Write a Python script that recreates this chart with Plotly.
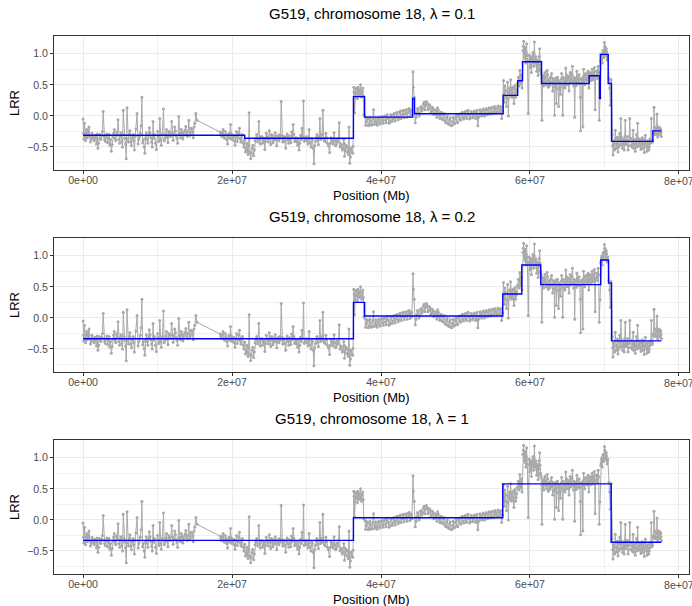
import plotly.graph_objects as go

# ---------------- data (positions in Mb, LRR values) ----------------
posA = [0.0, 0.1, 0.2, 0.35, 0.5, 0.65, 0.8, 1.0, 1.2, 1.4,
        1.6, 1.8, 2.0, 2.2, 2.4, 2.6, 2.7, 2.8, 3.0, 3.2,
        3.4, 3.6, 3.8, 4.0, 4.2, 4.4, 4.6, 4.7, 4.9, 5.1,
        5.3, 5.4, 5.6, 5.8, 5.9, 6.1, 6.3, 6.5, 6.7, 6.9,
        7.1, 7.25, 7.4, 7.6, 7.8, 7.9, 8.1, 8.3, 8.5, 8.7,
        8.9, 9.1, 9.3, 9.4, 9.6, 9.85, 10.0, 10.2, 10.3, 10.5,
        10.8, 11.0, 11.2, 11.4, 11.6, 11.9, 12.1, 12.3, 12.5, 12.7,
        12.85, 13.0, 13.2, 13.4, 13.6, 13.8, 14.0, 14.2, 14.4, 14.6,
        14.8, 15.0, 15.15, 15.3]
lrrA = [-0.05, -0.37, -0.12, -0.40, -0.22, -0.30, -0.18, -0.42, -0.28, -0.36,
        -0.31, -0.45, -0.52, -0.30, -0.38, -0.25, 0.07, -0.33, -0.41, -0.29,
        -0.35, -0.47, -0.57, -0.34, -0.22, -0.40, -0.31, -0.06, -0.44, -0.27,
        -0.50, 0.09, -0.36, -0.69, 0.13, -0.42, -0.24, -0.48, -0.30, -0.55,
        -0.21, 0.04, -0.45, -0.33, -0.16, 0.30, -0.38, -0.60, -0.27, -0.44,
        -0.19, -0.35, -0.50, -0.09, -0.30, -0.54, -0.25, -0.41, -0.04, -0.47,
        0.11, -0.36, -0.22, -0.43, -0.28, -0.09, -0.39, -0.18, -0.32, -0.44,
        -0.01, -0.30, -0.22, -0.37, -0.26, -0.17, -0.33, -0.07, -0.29, -0.21,
        -0.35, -0.12, 0.04, -0.07]
posA2 = [0.05, 0.28, 0.43, 0.58, 0.72, 0.9, 1.1, 1.3, 1.5, 1.7,
         1.9, 2.1, 2.3, 2.5, 2.9, 3.1, 3.3, 3.5, 3.7, 3.9,
         4.1, 4.3, 4.5, 4.8, 5.0, 5.2, 5.5, 5.7, 6.0, 6.2,
         6.4, 6.6, 6.8, 7.0, 7.5, 7.7, 8.0, 8.2, 8.4, 8.6,
         8.8, 9.0, 9.2, 9.5, 9.7, 10.1, 10.4, 10.65, 10.9, 11.1,
         11.3, 11.5, 11.75, 12.0, 12.2, 12.4, 12.6, 12.95, 13.1, 13.3,
         13.5, 13.7, 13.9, 14.1, 14.3, 14.5, 14.7, 14.9]
lrrA2 = [-0.28, -0.33, -0.27, -0.35, -0.25, -0.33, -0.38, -0.32, -0.40, -0.35,
         -0.29, -0.44, -0.36, -0.31, -0.38, -0.33, -0.43, -0.30, -0.38, -0.46,
         -0.28, -0.36, -0.26, -0.38, -0.32, -0.41, -0.30, -0.45, -0.37, -0.30,
         -0.42, -0.35, -0.40, -0.33, -0.38, -0.28, -0.43, -0.50, -0.35, -0.38,
         -0.31, -0.27, -0.42, -0.36, -0.44, -0.32, -0.38, -0.30, -0.40, -0.29,
         -0.34, -0.25, -0.33, -0.27, -0.30, -0.24, -0.36, -0.28, -0.35, -0.27,
         -0.31, -0.23, -0.29, -0.25, -0.32, -0.20, -0.26, -0.18]

posB = [18.4, 18.6, 18.8, 19.0, 19.2, 19.4, 19.6, 19.8, 20.0, 20.2,
        20.4, 20.6, 20.8, 21.0, 21.2, 21.4, 21.6, 21.8, 22.0, 22.15,
        22.3, 22.5, 22.7, 22.9, 23.1, 23.3, 23.6, 23.8, 24.0, 24.2,
        24.4, 24.6, 24.8, 25.0, 25.2, 25.4, 25.6, 25.8, 26.0, 26.2,
        26.4, 26.6, 26.8, 27.0, 27.2, 27.4, 27.6, 27.8, 28.0, 28.2,
        28.4, 28.6, 28.8, 29.0, 29.2, 29.4, 29.6, 29.8, 30.0, 30.2,
        30.35, 30.6, 30.8, 31.0, 31.2, 31.4, 31.6, 31.8, 32.0, 32.2,
        32.4, 32.6, 32.8, 33.1, 33.3, 33.5, 33.7, 33.9, 34.1, 34.4,
        34.6, 34.8, 35.0, 35.1, 35.3, 35.5, 35.7, 35.8, 36.0, 36.2]
lrrB = [-0.26, -0.33, -0.22, -0.36, -0.30, -0.45, -0.28, -0.14, -0.38, -0.31,
        -0.47, -0.25, -0.35, -0.20, -0.42, -0.30, -0.50, -0.58, -0.44, -0.62,
        0.05, -0.69, -0.52, -0.64, -0.40, -0.30, -0.09, -0.45, -0.33, -0.40,
        -0.54, -0.28, -0.37, -0.24, -0.46, -0.31, -0.39, -0.27, -0.48, -0.35,
        -0.30, 0.23, -0.42, -0.33, -0.52, -0.29, -0.44, -0.38, -0.26, -0.14,
        -0.41, -0.35, -0.47, -0.55, -0.31, -0.20, 0.24, -0.39, -0.33, -0.45,
        -0.22, -0.50, -0.38, -0.77, -0.41, -0.30, -0.46, -0.04, -0.36, 0.09,
        -0.40, -0.28, -0.44, -0.59, -0.35, -0.42, -0.27, -0.48, -0.37, -0.11,
        -0.45, -0.55, -0.38, -0.65, -0.47, -0.58, -0.18, -0.76, -0.52, -0.60]
posB2 = [18.5, 18.7, 18.9, 19.1, 19.3, 19.5, 19.7, 19.9, 20.1, 20.3,
         20.5, 20.7, 20.9, 21.1, 21.3, 21.5, 21.7, 21.9, 22.07, 22.22,
         22.4, 22.6, 22.8, 23.0, 23.2, 23.45, 23.7, 23.9, 24.1, 24.3,
         24.5, 24.7, 24.9, 25.1, 25.3, 25.5, 25.7, 25.9, 26.1, 26.3,
         26.5, 26.7, 26.9, 27.1, 27.3, 27.5, 27.7, 27.9, 28.1, 28.3,
         28.5, 28.7, 28.9, 29.1, 29.3, 29.5, 29.7, 29.9, 30.1, 30.28,
         30.45, 30.7, 30.9, 31.1, 31.3, 31.5, 31.7, 31.9, 32.1, 32.3,
         32.5, 32.7, 32.95, 33.2, 33.4, 33.6, 33.8, 34.0, 34.25, 34.5,
         34.7, 34.9, 35.05, 35.2, 35.4, 35.6, 35.75, 35.9, 36.1, 36.25]
lrrB2 = [-0.30, -0.27, -0.34, -0.25, -0.38, -0.33, -0.36, -0.29, -0.35, -0.40,
         -0.33, -0.41, -0.28, -0.37, -0.32, -0.44, -0.39, -0.53, -0.56, -0.48,
         -0.58, -0.60, -0.47, -0.55, -0.36, -0.42, -0.38, -0.34, -0.44, -0.36,
         -0.41, -0.33, -0.42, -0.36, -0.30, -0.43, -0.35, -0.38, -0.32, -0.40,
         -0.36, -0.31, -0.37, -0.41, -0.34, -0.38, -0.32, -0.43, -0.35, -0.30,
         -0.39, -0.42, -0.36, -0.44, -0.38, -0.33, -0.41, -0.35, -0.40, -0.37,
         -0.43, -0.36, -0.52, -0.48, -0.35, -0.39, -0.33, -0.38, -0.30, -0.36,
         -0.41, -0.35, -0.48, -0.44, -0.38, -0.45, -0.40, -0.46, -0.42, -0.50,
         -0.47, -0.52, -0.44, -0.56, -0.50, -0.62, -0.54, -0.66, -0.58, -0.49]

posC = [36.35, 36.45, 36.55, 36.7, 36.85, 36.95, 37.1, 37.25, 37.4, 37.55, 37.7,
        36.4, 36.5, 36.62, 36.78, 36.9, 37.02, 37.18, 37.32, 37.48, 37.62]
lrrC = [0.46, 0.05, 0.37, 0.44, 0.28, 0.42, 0.33, 0.50, 0.30, 0.45, 0.02,
        0.38, 0.30, 0.44, 0.35, 0.46, 0.38, 0.42, 0.36, 0.40, 0.33]

posD = [37.85, 38.0, 38.2, 38.4, 38.6, 38.8, 39.0, 39.2, 39.4, 39.6,
        39.8, 40.0, 40.2, 40.4, 40.6, 40.8, 41.0, 41.2, 41.4, 41.6,
        41.8, 42.0, 42.2, 42.4, 42.6, 42.8, 43.0, 43.2, 43.4, 43.6,
        43.8, 44.0, 44.15]
lrrD = [-0.01, -0.10, -0.05, -0.13, -0.08, -0.14, 0.10, -0.09, -0.12, -0.06,
        -0.11, -0.03, -0.08, -0.01, -0.07, 0.02, -0.04, -0.09, 0.01, -0.05,
        0.04, -0.02, 0.06, -0.03, 0.08, 0.02, 0.09, 0.03, 0.10, 0.05,
        0.12, 0.07, 0.02]
posD2 = [37.93, 38.1, 38.3, 38.5, 38.7, 38.9, 39.1, 39.3, 39.5, 39.7,
         39.9, 40.1, 40.3, 40.5, 40.7, 40.9, 41.1, 41.3, 41.5, 41.7,
         41.9, 42.1, 42.3, 42.5, 42.7, 42.9, 43.1, 43.3, 43.5, 43.7,
         43.9, 44.08]
lrrD2 = [-0.15, -0.03, -0.16, -0.02, -0.15, -0.04, -0.14, -0.03, -0.15, -0.02,
         -0.13, -0.01, -0.12, 0.00, -0.11, -0.02, -0.12, 0.02, -0.09, 0.03,
         -0.08, 0.05, -0.06, 0.06, -0.04, 0.08, -0.03, 0.09, -0.02, 0.11,
         -0.01, 0.09]

posE = [44.3, 44.35, 44.45]
lrrE = [0.71, 0.46, 0.30]

posF = [44.6, 44.8, 45.0, 45.2, 45.4, 45.6, 45.8, 46.0, 46.2, 46.4,
        46.6, 46.8, 47.0, 47.2, 47.4, 47.6, 47.8, 48.0, 48.2, 48.4,
        48.6, 48.8, 49.0, 49.2, 49.4, 49.6, 49.8, 50.0, 50.2, 50.4,
        50.6, 50.8, 51.0, 51.2, 51.4, 51.6, 51.8, 52.0, 52.2, 52.4,
        52.6, 52.8, 53.0, 53.2, 53.4, 53.6, 53.8, 54.0, 54.2, 54.4,
        54.6, 54.8, 55.0, 55.2, 55.4, 55.6, 55.8, 56.0, 56.2]
lrrF = [-0.11, 0.05, 0.10, 0.04, 0.15, 0.12, 0.22, 0.17, 0.20, 0.12,
        0.16, 0.08, 0.11, 0.03, 0.07, 0.13, 0.01, 0.05, -0.04, 0.02,
        -0.08, -0.03, -0.12, -0.06, -0.15, -0.09, -0.13, -0.04, -0.10, 0.00,
        -0.05, 0.03, -0.02, 0.05, -0.01, 0.08, 0.02, -0.03, 0.04, 0.00,
        0.06, -0.02, -0.16, 0.03, 0.07, 0.01, 0.09, 0.04, 0.10, 0.05,
        0.11, 0.06, 0.13, 0.08, 0.12, 0.07, 0.14, 0.10, -0.04]
posF2 = [44.7, 44.9, 45.1, 45.3, 45.5, 45.7, 45.9, 46.1, 46.3, 46.5,
         46.7, 46.9, 47.1, 47.3, 47.5, 47.7, 47.9, 48.1, 48.3, 48.5,
         48.7, 48.9, 49.1, 49.3, 49.5, 49.7, 49.9, 50.1, 50.3, 50.5,
         50.7, 50.9, 51.1, 51.3, 51.5, 51.7, 51.9, 52.1, 52.3, 52.5,
         52.7, 52.9, 53.1, 53.3, 53.5, 53.7, 53.9, 54.1, 54.3, 54.5,
         54.7, 54.9, 55.1, 55.3, 55.5, 55.7, 55.9, 56.1, 56.3]
lrrF2 = [-0.02, 0.12, 0.00, 0.14, 0.08, 0.19, 0.10, 0.23, 0.10, 0.18,
         0.06, 0.14, 0.02, 0.10, -0.02, 0.09, -0.04, 0.06, -0.06, 0.04,
         -0.11, 0.00, -0.14, -0.03, -0.16, -0.02, -0.12, 0.01, -0.11, 0.03,
         -0.07, 0.06, -0.05, 0.07, -0.04, 0.09, -0.05, 0.07, -0.03, 0.08,
         -0.04, 0.09, -0.02, 0.10, 0.00, 0.11, 0.00, 0.12, 0.02, 0.13,
         0.03, 0.14, 0.04, 0.15, 0.05, 0.16, 0.06, 0.15, 0.08]

posG = [56.45, 56.55, 56.7, 56.85, 57.0, 57.1, 57.25, 57.4, 57.55, 57.7, 57.85, 58.0, 58.15, 58.3,
        56.5, 56.62, 56.78, 56.92, 57.05, 57.18, 57.32, 57.48, 57.62, 57.78, 57.92, 58.08, 58.22]
lrrG = [0.57, 0.22, 0.41, 0.15, 0.54, 0.00, 0.45, 0.58, 0.30, 0.46, 0.20, 0.49, 0.36, 0.52,
        0.35, 0.48, 0.30, 0.40, 0.28, 0.38, 0.33, 0.42, 0.36, 0.31, 0.44, 0.30, 0.42]

posH = [58.45, 58.55, 58.65, 58.75, 58.85, 58.95]
lrrH = [0.62, 0.48, 0.73, 0.52, 0.66, 0.45]

posI = [59.05, 59.15, 59.25, 59.35, 59.45, 59.55, 59.65, 59.77, 59.9, 60.0,
        60.1, 60.2, 60.3, 60.4, 60.5, 60.6, 60.7, 60.8, 60.9, 61.0,
        61.1, 61.2, 61.3, 61.4, 61.5,
        59.1, 59.2, 59.3, 59.4, 59.5, 59.6, 59.95, 60.05, 60.15, 60.25,
        60.35, 60.45, 60.55, 60.65, 60.75, 60.85, 60.95, 61.05, 61.15, 61.25,
        61.35, 61.45]
lrrI = [1.05, 1.20, 0.95, 1.10, 0.85, 1.16, 0.90, 0.04, 0.98, 0.78,
        0.92, 0.70, 0.88, 1.02, 0.80, 1.19, 0.85, 0.95, 0.72, 0.90,
        0.65, 0.82, 1.08, 0.76, 0.68,
        1.12, 1.00, 1.06, 0.92, 1.02, 0.97, 0.88, 0.95, 0.82, 0.90,
        0.96, 0.86, 1.00, 0.92, 0.89, 0.84, 0.80, 0.86, 0.74, 0.95,
        0.88, 0.72]

posJ = [61.6, 61.7, 61.85, 62.0, 62.15, 62.3, 62.45, 62.6, 62.75, 62.9,
        63.05, 63.2, 63.3, 63.45, 63.55, 63.7, 63.85, 64.0, 64.1, 64.25,
        64.4, 64.55, 64.7, 64.8, 64.95, 65.1, 65.25, 65.4, 65.55, 65.7,
        65.85, 66.0, 66.15, 66.3, 66.45, 66.6, 66.75, 66.8, 66.95, 67.1,
        67.2, 67.35, 67.5, 67.65, 67.8, 67.9]
lrrJ = [-0.07, 0.62, 0.48, 0.70, 0.55, 0.73, 0.46, 0.60, 0.52, 0.68,
        0.40, 0.58, 0.01, 0.50, 0.20, 0.62, 0.15, 0.55, 0.35, 0.68,
        0.01, 0.58, 0.45, 0.77, 0.50, 0.64, 0.40, 0.70, 0.55, 0.80,
        0.48, -0.02, 0.60, 0.72, 0.52, 0.66, 0.30, -0.24, 0.58, -0.18,
        0.75, 0.50, 0.68, 0.56, 0.72, 0.45]
posJ2 = [61.65, 61.78, 61.92, 62.08, 62.22, 62.38, 62.52, 62.68, 62.82, 62.97,
         63.12, 63.25, 63.38, 63.5, 63.62, 63.78, 63.92, 64.05, 64.18, 64.32,
         64.48, 64.62, 64.75, 64.88, 65.02, 65.18, 65.32, 65.48, 65.62, 65.78,
         65.92, 66.08, 66.22, 66.38, 66.52, 66.68, 66.88, 67.02, 67.15, 67.28,
         67.42, 67.58, 67.72, 67.85]
lrrJ2 = [0.55, 0.65, 0.58, 0.62, 0.50, 0.66, 0.57, 0.49, 0.63, 0.54,
         0.60, 0.47, 0.56, 0.61, 0.44, 0.57, 0.52, 0.46, 0.59, 0.51,
         0.62, 0.48, 0.55, 0.66, 0.58, 0.50, 0.61, 0.53, 0.67, 0.57,
         0.62, 0.54, 0.49, 0.64, 0.58, 0.52, 0.60, 0.55, 0.63, 0.59,
         0.66, 0.58, 0.62, 0.68]

posK = [68.05, 68.2, 68.35, 68.5, 68.65, 68.75, 68.9, 69.05, 69.15, 69.3, 69.4,
        68.12, 68.28, 68.42, 68.58, 68.82, 68.98, 69.1, 69.22]
lrrK = [0.70, 0.57, 0.75, 0.62, 0.78, 0.10, 0.72, 0.60, 0.80, -0.07, 0.29,
        0.62, 0.68, 0.58, 0.70, 0.64, 0.72, 0.66, 0.70]

posL = [69.5, 69.6, 69.7, 69.8, 69.9, 70.0, 70.05, 70.15, 70.25, 70.35, 70.45,
        69.55, 69.65, 69.75, 69.85, 69.95, 70.1, 70.2, 70.3, 70.4]
lrrL = [0.88, 0.97, 0.85, 1.05, 0.94, 1.18, 1.12, 1.02, 1.08, 0.90, 0.98,
        0.92, 1.00, 0.95, 0.99, 1.05, 1.10, 0.97, 1.03, 0.93]

posM = [70.6, 70.7, 70.8, 70.9]
lrrM = [0.60, 0.45, 0.17, 0.58]

posN = [71.05, 71.15, 71.3, 71.45, 71.6, 71.75, 71.9, 72.05, 72.2, 72.35,
        72.5, 72.65, 72.8, 72.95, 73.1, 73.25, 73.4, 73.55, 73.7, 73.85,
        74.0, 74.15, 74.3, 74.45, 74.6, 74.75, 74.9, 75.05, 75.2, 75.35,
        75.5, 75.65, 75.8, 75.95, 76.1, 76.3, 76.45]
lrrN = [-0.30, -0.63, -0.45, -0.23, -0.52, -0.34, -0.50, -0.28, -0.04, -0.46,
        -0.38, -0.55, -0.07, -0.42, -0.33, -0.48, -0.04, -0.36, -0.50, -0.23,
        -0.44, -0.57, -0.30, -0.12, -0.49, -0.38, -0.54, -0.35, -0.45, -0.59,
        -0.31, -0.50, -0.40, -0.55, -0.37, -0.04, -0.42]
posN2 = [71.1, 71.22, 71.37, 71.52, 71.68, 71.82, 71.97, 72.12, 72.28, 72.42,
         72.57, 72.72, 72.87, 73.02, 73.17, 73.32, 73.47, 73.62, 73.77, 73.92,
         74.07, 74.22, 74.37, 74.52, 74.67, 74.82, 74.97, 75.12, 75.27, 75.42,
         75.57, 75.72, 75.87, 76.02, 76.2, 76.38]
lrrN2 = [-0.48, -0.40, -0.55, -0.36, -0.44, -0.58, -0.38, -0.47, -0.35, -0.52,
         -0.43, -0.33, -0.46, -0.39, -0.55, -0.41, -0.37, -0.47, -0.42, -0.52,
         -0.38, -0.45, -0.50, -0.36, -0.43, -0.48, -0.40, -0.52, -0.37, -0.46,
         -0.42, -0.57, -0.45, -0.50, -0.44, -0.39]

posO = [76.55, 76.65, 76.8, 76.95, 77.05, 77.15, 77.3, 77.45, 77.55, 77.65,
        76.6, 76.72, 76.88, 77.0, 77.1, 77.22, 77.38, 77.5, 77.6]
lrrO = [-0.28, 0.14, -0.30, -0.20, 0.03, -0.34, -0.18, -0.28, -0.22, -0.33,
        -0.25, -0.18, -0.27, -0.22, -0.30, -0.24, -0.30, -0.20, -0.27]

pos_parts = [posA, posA2, posB, posB2, posC, posD, posD2, posE, posF, posF2, posG,
             posH, posI, posJ, posJ2, posK, posL, posM, posN, posN2, posO]
lrr_parts = [lrrA, lrrA2, lrrB, lrrB2, lrrC, lrrD, lrrD2, lrrE, lrrF, lrrF2, lrrG,
             lrrH, lrrI, lrrJ, lrrJ2, lrrK, lrrL, lrrM, lrrN, lrrN2, lrrO]
for pp, ll in zip(pos_parts, lrr_parts):
    assert len(pp) == len(ll), (len(pp), len(ll), pp[0])
probes = sorted(zip([p for part in pos_parts for p in part],
                    [v for part in lrr_parts for v in part]))
position_mb = [p for p, _ in probes]
lrr = [v for _, v in probes]

# segmentation (start of each segment in Mb, and segment mean)
seg_lam01_start = [0.0, 21.7, 36.3, 37.8, 44.25, 44.5, 56.4, 58.35, 59.0, 61.55, 67.95, 69.35, 69.45, 70.5, 70.95, 76.5]
seg_lam01_mean = [-0.31, -0.36, 0.31, -0.02, 0.28, 0.035, 0.33, 0.565, 0.87, 0.52, 0.645, 0.28, 0.99, 0.52, -0.41, -0.24]
seg_lam02_start = [0.0, 36.3, 37.8, 56.35, 58.9, 61.45, 69.5, 70.55, 70.95]
seg_lam02_mean = [-0.335, 0.25, 0.03, 0.385, 0.85, 0.535, 0.93, 0.56, -0.37]
seg_lam1_start = [0.0, 36.3, 56.35, 70.9]
seg_lam1_mean = [-0.33, 0.035, 0.58, -0.36]
seg_end = 77.65

lambdas = ["0.1", "0.2", "1"]
x_ticks = [0, 2e7, 4e7, 6e7, 8e7]
x_ticklabels = ["0e+00", "2e+07", "4e+07", "6e+07", "8e+07"]
y_ticks = [-0.5, 0.0, 0.5, 1.0]
y_ticklabels = ["\u22120.5", "0.0", "0.5", "1.0"]

# ---------------- figure ----------------
W, H = 692, 606
FONT = "Liberation Sans, Arial, Helvetica, sans-serif"
TICK_SIZE = 10.6
fig = go.Figure()

segs = [(seg_lam01_start, seg_lam01_mean), (seg_lam02_start, seg_lam02_mean), (seg_lam1_start, seg_lam1_mean)]
x_left, x_right = 54, 689
annotations = []
for i, (starts, means) in enumerate(segs):
    k = "" if i == 0 else str(i + 1)
    top = 36 + 202 * i
    bottom = 170 + 202 * i
    fig.add_trace(go.Scatter(
        x=[p * 1e6 for p in position_mb], y=lrr, mode="lines+markers",
        line=dict(color="#A9A9A9", width=1), marker=dict(color="#A9A9A9", size=3),
        xaxis="x" + k, yaxis="y" + k, showlegend=False, hoverinfo="skip"))
    fig.add_trace(go.Scatter(
        x=[s * 1e6 for s in starts] + [seg_end * 1e6], y=list(means) + [means[-1]],
        mode="lines", line=dict(color="#0000FF", width=1.4, shape="hv"),
        xaxis="x" + k, yaxis="y" + k, showlegend=False, hoverinfo="skip"))
    common = dict(showline=True, linecolor="#333333", linewidth=1, mirror=True,
                  ticks="outside", ticklen=3, tickcolor="#333333", tickwidth=1,
                  tickfont=dict(family=FONT, size=TICK_SIZE, color="#4D4D4D"),
                  showgrid=True, gridcolor="#EBEBEB", gridwidth=1, zeroline=False,
                  automargin=False, fixedrange=True)
    fig.update_layout(**{
        "xaxis" + k: dict(common, domain=[x_left / W, x_right / W], anchor="y" + k,
                          range=[-3.9e6, 8.135e7], tickmode="array", tickvals=x_ticks,
                          ticktext=x_ticklabels[:-1] + [""], ticklabelstandoff=-3,
                          minor=dict(tickvals=[1e7, 3e7, 5e7, 7e7], showgrid=True,
                                     gridcolor="#F0F0F0", gridwidth=0.6, ticks="")),
        "yaxis" + k: dict(common, domain=[1 - bottom / H, 1 - top / H], anchor="x" + k,
                          range=[-0.87, 1.285], tickmode="array", tickvals=y_ticks,
                          ticktext=y_ticklabels,
                          minor=dict(tickvals=[-0.75, -0.25, 0.25, 0.75], showgrid=True,
                                     gridcolor="#F0F0F0", gridwidth=0.6, ticks="")),
    })
    cx = (x_left + x_right) / 2 / W
    # last x tick label runs past the right edge, as in the reference
    annotations.append(dict(text=x_ticklabels[-1], x=x_ticks[-1], xref="x" + k,
                            y=1 - (181 + 202 * i) / H, yref="paper", showarrow=False,
                            xanchor="center", yanchor="middle",
                            font=dict(family=FONT, size=TICK_SIZE, color="#4D4D4D")))
    annotations.append(dict(text="G519, chromosome 18, \u03bb = " + lambdas[i],
                            x=cx, y=1 - (14 + 202 * i) / H, xref="paper", yref="paper",
                            showarrow=False, xanchor="center", yanchor="middle",
                            font=dict(family=FONT, size=15, color="#000000")))
    annotations.append(dict(text="Position (Mb)", x=cx, y=1 - (195 + 202 * i) / H,
                            xref="paper", yref="paper", showarrow=False,
                            xanchor="center", yanchor="middle",
                            font=dict(family=FONT, size=13, color="#000000")))
    annotations.append(dict(text="LRR", x=14 / W, y=1 - ((top + bottom) / 2) / H,
                            xref="paper", yref="paper", showarrow=False, textangle=-90,
                            xanchor="center", yanchor="middle",
                            font=dict(family=FONT, size=13, color="#000000")))

fig.update_layout(width=W, height=H, margin=dict(l=0, r=0, t=0, b=0),
                  paper_bgcolor="white", plot_bgcolor="white",
                  annotations=annotations, showlegend=False)
fig.write_html("out.html", config={"displayModeBar": False},
               post_script="document.body.style.margin='0';document.body.style.overflow='hidden';")
